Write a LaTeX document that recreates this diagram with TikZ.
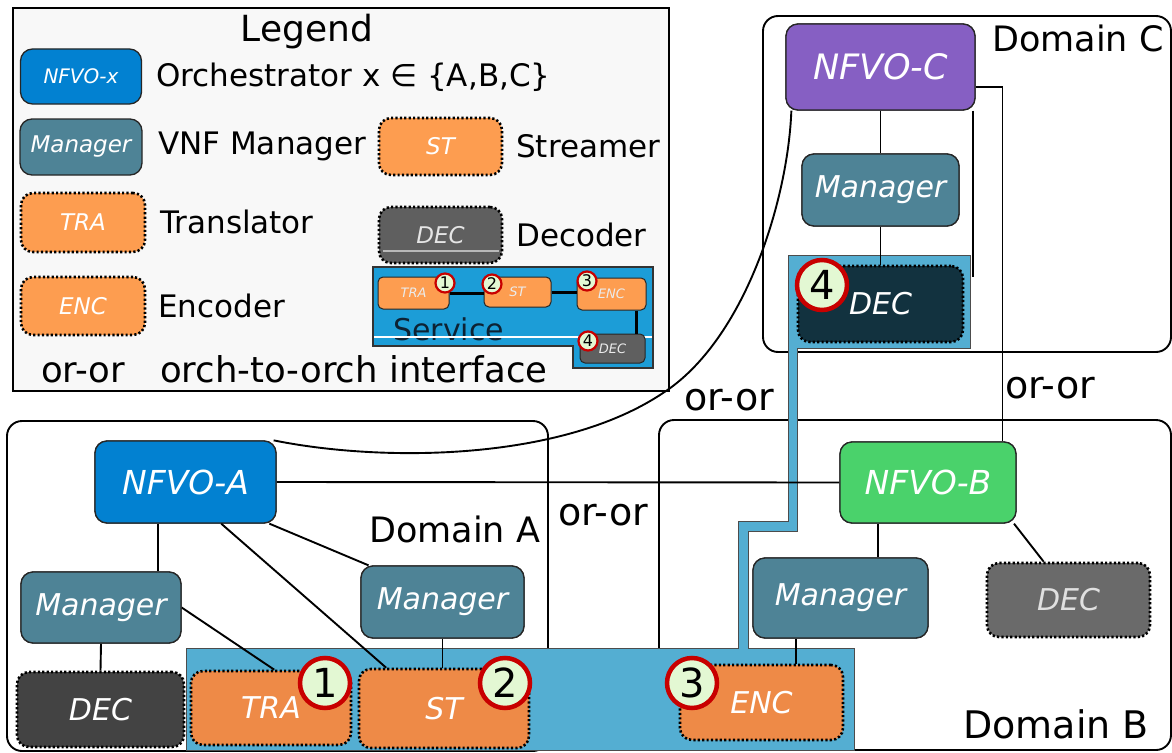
\documentclass[tikz,border=0pt]{standalone}
\usepackage{fontspec}
\setmainfont{DejaVu Sans}
\usetikzlibrary{calc}
\newcommand\myfs[1]{\fontsize{#1}{#1}\selectfont}
\definecolor{nfvoblue}{HTML}{0281D1}
\definecolor{nfvogreen}{HTML}{4AD26B}
\definecolor{nfvopurple}{HTML}{865FC3}
\definecolor{mgrcol}{HTML}{4E8396}
\definecolor{orangemain}{HTML}{EE8A47}
\definecolor{orangelg}{HTML}{FD9D50}
\definecolor{decA}{HTML}{434343}
\definecolor{decB}{HTML}{6A6A6A}
\definecolor{decC}{HTML}{12323F}
\definecolor{declg}{HTML}{5F5F5F}
\definecolor{bandblue}{HTML}{54AED2}
\definecolor{lgblue}{HTML}{1C9DD7}
\definecolor{numred}{HTML}{C80000}
\definecolor{numfill}{HTML}{E3F8D3}
\definecolor{lgback}{HTML}{F8F8F8}
\definecolor{servtext}{HTML}{0D2233}
\begin{document}
\begin{tikzpicture}[x=1pt,y=-1pt,
  box/.style={rounded corners=12pt, draw=black!85, line width=1.3pt, inner sep=0pt, text=white, font={\myfs{30}\itshape}, align=center},
  vnf/.style={box, draw=black, line width=2.6pt, dash pattern=on 2.2pt off 2.2pt},
  lgbox/.style={box, font={\myfs{23}\itshape}},
  lgvnf/.style={vnf, font={\myfs{23}\itshape}},
  minibox/.style={rounded corners=5pt, draw=black!85, line width=1pt, inner sep=0pt, text=white!92!black, font={\myfs{13}\itshape}},
  conn/.style={line width=1.9pt, draw=black},
  dombox/.style={line width=1.9pt, draw=black, rounded corners=15pt},
  numc/.style={circle, draw=numred, fill=numfill, line width=4.5pt, minimum size=50pt, inner sep=0pt, font={\myfs{40}}},
  minic/.style={circle, draw=numred, fill=numfill, line width=2.2pt, minimum size=19pt, inner sep=0pt, font={\myfs{16}}},
  lbl/.style={anchor=base west, inner sep=0pt, font={\myfs{31}}},
  orlbl/.style={anchor=base west, inner sep=0pt, font={\myfs{38}}}
]
\useasboundingbox (0,0) rectangle (1172,752);
\clip (0,0) rectangle (1172,752);
\fill[white] (0,0) rectangle (1172,752);

% ---------------- Legend ----------------
\draw[line width=2pt, fill=lgback] (13,8) rectangle (669,391);
\node[anchor=base, inner sep=0pt, font={\myfs{36}}] (lgtitle) at (307,42) {Legend};
\node[lgbox, fill=nfvoblue, font={\myfs{20}\itshape}, minimum width=121pt, minimum height=55pt] (lgNFVO) at (81,76.5) {NFVO-x};
\node[lbl] (lgNFVOt) at (156,86) {Orchestrator x ∈ \{A,B,C\}};
\node[lgbox, fill=mgrcol, minimum width=122pt, minimum height=56pt] (lgMgr) at (81,147) {Manager};
\node[lbl] (lgMgrt) at (158,154) {VNF Manager};
\node[lgvnf, fill=orangelg, minimum width=123pt, minimum height=57pt] (lgST) at (440.5,146.5) {ST};
\node[lbl] (lgSTt) at (516,157) {Streamer};
\node[lgvnf, fill=orangelg, minimum width=124pt, minimum height=59pt] (lgTRA) at (83,222.5) {TRA};
\node[lbl] (lgTRAt) at (160,233) {Translator};
\node[lgvnf, fill=declg, text=white!90!black, minimum width=123pt, minimum height=56pt] (lgDEC) at (440.5,235) {DEC};
\draw[gray!55, line width=1.5pt] (383,251) -- (499,251);
\node[lbl] (lgDECt) at (516,246) {Decoder};
\node[lgvnf, fill=orangelg, minimum width=124pt, minimum height=58pt] (lgENC) at (83,306) {ENC};
\node[lbl] (lgENCt) at (158,317) {Encoder};
\node[lbl, font={\myfs{35.5}}] (lgor) at (41,382) {or-or};
\node[lbl, font={\myfs{35.5}}] (lgort) at (160,382) {orch-to-orch interface};

% legend service
\draw[line width=2pt, draw=black!80, fill=lgblue] (373,267) -- (653,267) -- (653,368) -- (573,368) -- (573,346) -- (373,346) -- cycle;
\node[anchor=base west, inner sep=0pt, text=servtext, font={\myfs{30}}] (servlbl) at (393,340) {Service};
\draw[white, line width=1.5pt] (374,337) -- (652,337);
\node[minibox, fill=orangelg, minimum width=71pt, minimum height=32pt] (mTRA) at (413.5,293) {TRA};
\node[minibox, fill=orangelg, minimum width=67pt, minimum height=30pt] (mST) at (517.5,292) {ST};
\node[minibox, fill=orangelg, minimum width=69pt, minimum height=32pt] (mENC) at (611.5,294) {ENC};
\node[minibox, fill=decA!85!white, minimum width=65pt, minimum height=29pt] (mDEC) at (612.5,348.5) {DEC};
\draw[line width=3pt] (mTRA.east) -- (mTRA.east -| mST.west);
\draw[line width=3pt] (mST.east) -- (mST.east -| mENC.west);
\draw[line width=3pt] ($(mENC.south east)+(-10,0)$) -- ($(mDEC.north east)+(-9,0)$);
\node[minic] (m1) at (445,283) {1};
\node[minic] (m2) at (492,284) {2};
\node[minic] (m3) at (587,281) {3};
\node[minic] (m4) at (588,341) {4};

% ---------------- Domains ----------------
\draw[dombox] (7,421) rectangle (548,751);
\draw[dombox] (659,420) rectangle (1171,750);
\draw[dombox] (763,16) rectangle (1171,352);
\node[anchor=base west, inner sep=0pt, font={\myfs{35}}] (domA) at (369,542) {Domain A};
\node[anchor=base west, inner sep=0pt, font={\myfs{38}}] (domB) at (963,738) {Domain B};
\node[anchor=base west, inner sep=0pt, font={\myfs{35}}] (domC) at (992,52) {Domain C};
\node[orlbl] (or1) at (684,410) {or-or};
\node[orlbl] (or2) at (558,525) {or-or};
\node[orlbl] (or3) at (1005,398) {or-or};

% ---------------- Service band ----------------
\draw[line width=0.9pt, draw=black!70, fill=bandblue]
  (186,648) -- (738,648) -- (738,521) -- (788,521) -- (788,255) -- (970,255) -- (970,348)
  -- (797,348) -- (797,531) -- (748,531) -- (748,648) -- (854,648) -- (854,750) -- (186,750) -- cycle;

% ---------------- Nodes (placed first for anchors, drawn later on top) ----------------
\node[box, fill=nfvoblue, font={\myfs{33}\itshape}, minimum width=181pt, minimum height=82pt] (nfvoA) at (185.5,482) {NFVO-A};
\node[box, fill=nfvogreen, font={\myfs{33}\itshape}, minimum width=176pt, minimum height=81pt] (nfvoB) at (928,482.5) {NFVO-B};
\node[box, fill=nfvopurple, font={\myfs{35}\itshape}, minimum width=189pt, minimum height=86pt] (nfvoC) at (880.5,67) {NFVO-C};
\node[box, fill=mgrcol, minimum width=160pt, minimum height=71pt] (mgrA1) at (101,607.5) {Manager};
\node[box, fill=mgrcol, minimum width=163pt, minimum height=72pt] (mgrA2) at (442.5,602) {Manager};
\node[box, fill=mgrcol, minimum width=175pt, minimum height=80pt] (mgrB) at (840.5,598) {Manager};
\node[box, fill=mgrcol, minimum width=157pt, minimum height=72pt] (mgrC) at (880.5,190) {Manager};

% connectors
\coordinate (cAB1) at ($(nfvoA.south west)!0.35!(nfvoA.south east)$);
\draw[conn] (cAB1) -- (cAB1 |- mgrA1.north);
\draw[conn] (nfvoA.east) -- (nfvoB.west);
\coordinate (cA2) at ($(nfvoA.south west)!0.96!(nfvoA.south east)$);
\coordinate (cA2b) at ($(mgrA2.north west)!0.05!(mgrA2.north east)$);
\draw[conn] (cA2) -- (cA2b);
\draw[conn] ($(nfvoA.north east)+(-3,0)$) .. controls (380,462) and (560,462) .. (663,393)
  .. controls (745,340) and (788,200) .. ($(nfvoC.south west)+(6,0)$);
\coordinate (cC1) at ($(nfvoC.north east)!0.73!(nfvoC.south east)$);
\coordinate (cB1) at ($(nfvoB.north west)!0.92!(nfvoB.north east)$);
\draw[conn] (cC1) -| (cB1);
\coordinate (cCend) at (973,277);
\draw[conn] (cCend |- nfvoC.south) -- (cCend);
\draw[conn] (nfvoC.south) -- (mgrC.north);
\coordinate (cB2) at ($(nfvoB.south west)!0.216!(nfvoB.south east)$);
\draw[conn] (cB2) -- (cB2 |- mgrB.north);

% redraw the nodes on top of connectors
\node[box, fill=nfvoblue, font={\myfs{33}\itshape}, minimum width=181pt, minimum height=82pt] (nfvoAtop) at (185.5,482) {NFVO-A};
\node[box, fill=nfvopurple, font={\myfs{35}\itshape}, minimum width=189pt, minimum height=86pt] (nfvoCtop) at (880.5,67) {NFVO-C};

% VNFs
\node[vnf, fill=decA, minimum width=167pt, minimum height=75pt] (decA) at (100.5,709.5) {DEC};
\node[vnf, fill=orangemain, minimum width=160pt, minimum height=74pt] (tra) at (271,708) {TRA};
\node[vnf, fill=orangemain, minimum width=170pt, minimum height=79pt] (st) at (444,708.5) {ST};
\node[vnf, fill=orangemain, minimum width=163pt, minimum height=75pt] (enc) at (761.5,702.5) {ENC};
\node[vnf, fill=decB, text=white!88!black, minimum width=163pt, minimum height=74pt] (decB) at (1068.5,600) {DEC};
\node[vnf, fill=decC, minimum width=165pt, minimum height=76pt] (decC) at (880.5,304) {DEC};

% connectors to VNFs
\draw[conn] (mgrA1.south) -- (decA.north);
\coordinate (cTR) at ($(tra.north west)!0.52!(tra.north east)$);
\draw[conn] (mgrA1.east) -- (cTR);
\coordinate (cA3) at ($(nfvoA.south west)!0.696!(nfvoA.south east)$);
\coordinate (cST) at ($(st.north west)!0.165!(st.north east)$);
\draw[conn] (cA3) -- (cST);
\draw[conn] (mgrA2.south) -- (mgrA2.south |- st.north);
\coordinate (cMB) at ($(mgrB.south west)!0.25!(mgrB.south east)$);
\draw[conn] (cMB) -- (cMB |- enc.north);
\coordinate (cB3) at ($(nfvoB.south west)!0.985!(nfvoB.south east)$);
\coordinate (cDB) at ($(decB.north west)!0.35!(decB.north east)$);
\draw[conn] (cB3) -- (cDB);
\draw[conn] (mgrC.south) -- (decC.north);

% redraw managers and NFVO-B on top
\node[box, fill=mgrcol, minimum width=160pt, minimum height=71pt] (mgrA1top) at (101,607.5) {Manager};
\node[box, fill=mgrcol, minimum width=163pt, minimum height=72pt] (mgrA2top) at (442.5,602) {Manager};
\node[box, fill=mgrcol, minimum width=175pt, minimum height=80pt] (mgrBtop) at (840.5,598) {Manager};
\node[box, fill=mgrcol, minimum width=157pt, minimum height=72pt] (mgrCtop) at (880.5,190) {Manager};
\node[box, fill=nfvogreen, font={\myfs{33}\itshape}, minimum width=176pt, minimum height=81pt] (nfvoBtop) at (928,482.5) {NFVO-B};

% number circles
\node[numc] (n1) at (325,683) {1};
\node[numc] (n2) at (505,683) {2};
\node[numc] (n3) at (692,683) {3};
\node[numc] (n4) at (822,285) {4};
\end{tikzpicture}
\end{document}
